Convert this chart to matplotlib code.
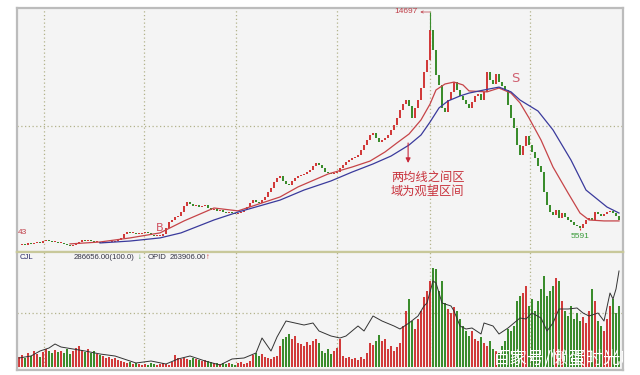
import matplotlib
matplotlib.use("Agg")
import matplotlib.pyplot as plt
import numpy as np

plt.rcParams['font.family'] = ['Noto Sans CJK SC', 'DejaVu Sans']

# daily closes (index points)
close = [4960, 5000, 4960, 5050, 5000, 5050, 5090, 5050, 5130, 5170,
         5130, 5090, 5090, 5050, 5050, 5000, 4960, 4920, 4960, 5000,
         5090, 5170, 5130, 5170, 5130, 5090, 5090, 5050, 5050, 5050,
         5090, 5090, 5130, 5170, 5260, 5420, 5510, 5470, 5470, 5420,
         5420, 5470, 5510, 5470, 5380, 5340, 5340, 5340, 5420, 5670,
         5920, 6010, 6130, 6180, 6340, 6590, 6760, 6680, 6590, 6640,
         6550, 6590, 6640, 6510, 6430, 6470, 6390, 6430, 6340, 6300,
         6340, 6300, 6260, 6300, 6340, 6430, 6550, 6720, 6840, 6760,
         6720, 6840, 6970, 7180, 7350, 7600, 7760, 7850, 7640, 7510,
         7470, 7640, 7760, 7850, 7890, 7930, 8010, 8100, 8260, 8390,
         8310, 8180, 8010, 7970, 7930, 7970, 8010, 8180, 8310, 8430,
         8520, 8600, 8640, 8720, 8930, 9140, 9350, 9560, 9640, 9430,
         9270, 9350, 9430, 9560, 9770, 9980, 10270, 10600, 10860, 11020,
         10770, 10270, 10690, 11020, 11520, 12190, 12690, 13940, 13110, 12070,
         11650, 10690, 10520, 11020, 11350, 11770, 11440, 11190, 11020, 10860,
         10690, 10940, 11190, 11270, 11020, 11350, 12190, 11860, 11690, 12110,
         11770, 11610, 11440, 10810, 10270, 9850, 9140, 8720, 9100, 9520,
         9140, 8850, 8600, 8260, 8010, 7180, 6640, 6340, 6220, 6430,
         6090, 6300, 6130, 6010, 5930, 5800, 5760, 5670, 5840, 6010,
         6090, 6010, 6340, 6260, 6170, 6260, 6340, 6380, 6300, 6170, 6010]

# volume (CJL), arbitrary units
volume = [10, 12, 9, 14, 11, 16, 13, 10, 15,
          18, 16, 14, 17, 15,
          16, 14, 18, 13, 16, 19, 21, 17, 15, 18, 14, 16, 13, 12,
          11, 9, 10, 8, 9,
          7, 6, 5, 4, 5, 3, 4, 3, 2,
          3, 2, 4, 3, 2, 3, 4, 3, 2, 5,
          12, 9, 8,
          9, 8, 7, 9, 8, 7, 6, 7, 6,
          5, 4, 4, 3, 4, 3, 4, 3, 2,
          4, 5, 3, 4, 6,
          12, 14, 11, 13, 10,
          9, 8, 10, 11,
          21, 28, 30,
          33, 28, 31, 24,
          23, 21, 25, 22, 26,
          28, 24,
          16, 14, 18, 13, 16, 19, 28,
          11, 9, 10, 8, 9, 7, 10, 8, 14,
          24, 22, 26,
          32, 26, 28,
          18, 21, 16, 20, 24,
          41, 56, 68,
          46, 38, 48,
          56, 70,
          76, 86,
          99, 98,
          76, 86,
          64, 58, 54, 60,
          56, 48, 41, 36,
          31, 36, 28, 26, 30, 24,
          21, 26, 18, 16, 14,
          21, 26,
          38, 36, 41,
          66, 71, 74,
          81, 61, 68,
          56, 66, 78,
          91, 71, 76,
          81, 89, 86,
          66, 56, 51, 61,
          48, 54, 46, 50, 44,
          56, 78, 66,
          46, 41, 36, 48,
          61, 68,
          54, 61]

# short moving average (red)
ma_red_idx = [17, 27, 37, 47, 55, 65, 73, 80, 87, 93, 103, 111, 117, 122, 126, 130, 134,
              137, 139, 142, 145, 148, 150, 156, 160, 164, 167, 170, 174, 178, 183,
              187, 190, 195, 200]
ma_red = [5010, 5090, 5260, 5470, 5970, 6510, 6390, 6680, 6970, 7390, 7930, 8220, 8470,
          8850, 9230, 9600, 10190, 10850, 11440, 11690, 11770, 11650, 11400, 11360,
          11520, 11310, 10900, 10270, 9350, 8220, 7140, 6300, 6010, 5970, 5970]

# long moving average (blue)
ma_blue_idx = [27, 37, 47, 54, 65, 73, 80, 87, 95, 104, 111, 118, 124, 130, 134, 137,
               140, 143, 147, 150, 155, 160, 164, 167, 173, 178, 184, 189, 196, 200]
ma_blue = [5050, 5130, 5260, 5470, 6010, 6340, 6590, 6840, 7260, 7640, 8010, 8350,
           8680, 9140, 9560, 10100, 10690, 10980, 11190, 11310, 11440, 11560, 11360,
           11020, 10560, 9770, 8510, 7260, 6550, 6300]

# OPID line in the volume panel
opid_idx = [0, 4, 7, 10, 12, 14, 18, 22, 27, 32, 35, 39, 44, 49, 53, 57, 62, 67, 71,
            75, 79, 81, 84, 86, 89, 92, 95, 98, 100, 104, 107, 109, 113, 115, 118,
            121, 125, 127, 130, 133, 135, 136, 138, 139, 140, 141, 144, 145, 147,
            149, 151, 154, 155, 158, 160, 163, 165, 167, 169, 171, 174, 176, 178,
            180, 183, 186, 188, 190, 193, 195, 197, 198, 199, 200]
opid = [9, 11, 16, 19, 23, 20, 18, 16, 13, 11, 8, 4, 6, 3, 8, 11, 6, 2, 8,
        9, 14, 29, 16, 30, 46, 44, 42, 44, 36, 31, 29, 31, 41, 36, 51,
        46, 41, 38, 44, 51, 61, 64, 86, 84, 74, 64, 61, 56, 41,
        38, 39, 33, 44, 41, 33, 39, 44, 49, 48, 54, 49, 36, 44,
        58, 58, 59, 54, 51, 54, 46, 74, 68, 78, 96]

peak_idx, peak_high = 137, 14697
low_idx, low_val = 187, 5591
date_lines = [8.3, 41.7, 72.3, 106, 137, 170.3]

RED = '#d13a3a'
GREEN = '#3a8c2c'
GRID = '#b3b38c'

fig = plt.figure(figsize=(6.4, 3.75), dpi=100)
fig.patch.set_facecolor('white')
ax = fig.add_axes([17/640, 1 - 252/375, 606/640, 244/375])
axv = fig.add_axes([17/640, 5/375, 606/640, 118/375])

x = np.arange(len(close))
c = np.array(close, dtype=float)
o = np.r_[c[0], c[:-1]]
up = c >= o
col = np.where(up, RED, GREEN)
body = np.maximum(np.abs(c - o), 25)

for a in (ax, axv):
    a.set_facecolor('#f4f4f4')
    a.set_xlim(-0.67, 201.33)
    a.set_xticks([])
    a.set_yticks([])
    for xv in date_lines:
        a.axvline(xv, color=GRID, lw=0.9, ls=(0, (1, 2)), zorder=0)
    for s in a.spines.values():
        s.set_color('#bcbcbc')
        s.set_linewidth(1.6)

# price panel
ax.set_ylim(4672, 14864)
ax.axhline(9935, color=GRID, lw=0.9, ls=(0, (1, 2)), zorder=0)
ax.bar(x, body, bottom=np.minimum(o, c), width=0.55, color=col, linewidth=0, zorder=2)
ax.vlines(peak_idx, c[peak_idx], peak_high, color=GREEN, lw=0.8, zorder=2)
ax.vlines(low_idx, low_val, c[low_idx], color=RED, lw=0.8, zorder=2)
ax.plot(ma_red_idx, ma_red, color='#c64448', lw=0.9, zorder=3)
ax.plot(ma_blue_idx, ma_blue, color='#3a3a9c', lw=0.9, zorder=3)
ax.spines['bottom'].set_color('#c8c89a')

ax.annotate('14697', xy=(peak_idx, peak_high), xytext=(-9, 0), textcoords='offset points',
            ha='right', va='center', fontsize=6, color='#c0404a',
            family='Liberation Sans',
            arrowprops=dict(arrowstyle='<-', color='#c0404a', lw=0.5,
                            shrinkA=0, shrinkB=0, mutation_scale=4))
ax.annotate('5591', xy=(low_idx, low_val), xytext=(0, -2), textcoords='offset points',
            ha='center', va='top', fontsize=6, color='#3a9a3a', family='Liberation Sans')
ax.text(-0.4, 5466, '43', ha='left', va='center', fontsize=6, color='#c0404a',
        family='Liberation Sans')
ax.text(47, 5674, 'B', ha='center', va='center', fontsize=8, color='#d05060',
        family='DejaVu Sans')
ax.text(165.3, 11940, 'S', ha='center', va='center', fontsize=9.5, color='#d06070',
        family='DejaVu Sans')
ax.annotate('', xy=(129.7, 8390), xytext=(129.7, 9225),
            arrowprops=dict(arrowstyle='-|>', color='#c8283a', lw=0.8,
                            shrinkA=0, shrinkB=0, mutation_scale=7))
ax.text(124, 8055, '两均线之间区\n域为观望区间', ha='left', va='top', fontsize=8.8,
        color='#c8323c', linespacing=1.05)

# volume panel
axv.set_ylim(-3, 115)
axv.axhline(54, color=GRID, lw=0.9, ls=(0, (1, 2)), zorder=0)
axv.bar(x, volume, width=0.85, color=col, linewidth=0, zorder=2)
axv.plot(opid_idx, opid, color='#333333', lw=0.7, zorder=3)
axv.spines['top'].set_color('#c8c89a')

fs = 5.6
hdr = dict(transform=axv.transAxes, fontsize=fs, va='center', family='Liberation Sans')
axv.text(0.005, 0.95, 'CJL', color='#2a2a6a', **hdr)
axv.text(0.194, 0.95, '286656.00(100.0)', color='#333344', ha='right', **hdr)
axv.text(0.199, 0.95, '↓', color='#3a9a3a', **hdr)
axv.text(0.216, 0.95, 'OPID', color='#333344', **hdr)
axv.text(0.252, 0.95, '263906.00', color='#333344', **hdr)
axv.text(0.312, 0.95, '↑', color='#d03030', **hdr)
axv.text(0.785, 0.1, '百家号/懒蛋时光吖', transform=axv.transAxes, fontsize=12.5,
         color='white', va='center', ha='left', clip_on=True)

fig.savefig('out.png', dpi=100)
